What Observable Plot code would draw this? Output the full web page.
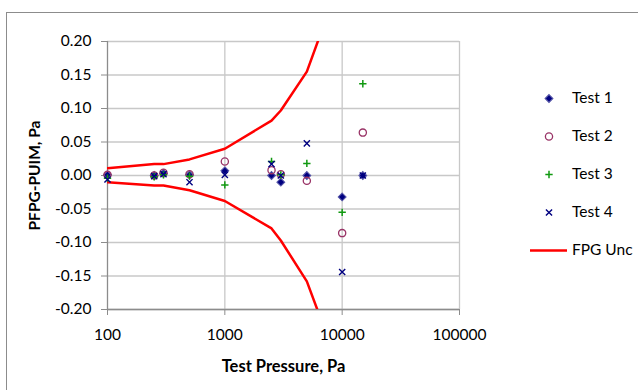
<!DOCTYPE html>
<html>
<head>
<meta charset="utf-8">
<script src="https://cdn.jsdelivr.net/npm/d3@7"></script>
<script src="https://cdn.jsdelivr.net/npm/@observablehq/plot@0.6"></script>
<style>
  html, body { margin: 0; padding: 0; background: #fff; overflow: hidden; width: 638px; height: 390px; }
  #wrap { position: relative; width: 638px; height: 390px; }
  #frame { position: absolute; left: 6px; top: 12px; width: 700px; height: 500px;
           border-left: 1.5px solid #8c8c8c; border-top: 1.5px solid #8c8c8c; }
  #main, #legend { position: absolute; left: 0; top: 0; }
</style>
</head>
<body>
<div id="wrap"><div id="frame"></div><div id="main"></div><div id="legend"></div></div>
<script>
// ---- data ----
const pressures = [100, 250, 300, 500, 1000, 2500, 3000, 5000, 10000, 15000];
const test1 = [0.001, 0.000, 0.003, 0.001, 0.007, 0.000, -0.010, 0.000, -0.032, 0.000];
const test2 = [0.001, 0.000, 0.004, 0.002, 0.021, 0.008, 0.002, -0.008, -0.086, 0.064];
const test3 = [-0.004, -0.002, 0.001, -0.001, -0.014, 0.021, 0.001, 0.018, -0.055, 0.137];
const test4 = [-0.006, -0.001, 0.002, -0.010, 0.001, 0.017, 0.000, 0.048, -0.144, 0.000];
const uncPressures = [100, 250, 300, 500, 1000, 2500, 3000, 5000, 10000];
const uncUpper = [0.011, 0.017, 0.017, 0.024, 0.040, 0.082, 0.097, 0.155, 0.300];
const uncLower = [-0.010, -0.015, -0.015, -0.022, -0.038, -0.079, -0.097, -0.158, -0.300];
const seriesNames = ["Test 1", "Test 2", "Test 3", "Test 4", "FPG Unc"];
const xTicks = [100, 1000, 10000, 100000];
const yTicks = [-0.20, -0.15, -0.10, -0.05, 0.00, 0.05, 0.10, 0.15, 0.20];
const xTitle = "Test Pressure, Pa";
const yTitle = "PFPG-PUIM, Pa";

// ---- styles ----
const styles = {
  "Test 1": {symbol: "diamond2", r: 3.5, fill: "#000080", stroke: "#5656a8", strokeWidth: 1.1},
  "Test 2": {symbol: "circle", r: 3.6, fill: "none", stroke: "#993366", strokeWidth: 1.3},
  "Test 3": {symbol: "plus", r: 2.5, fill: "none", stroke: "#119911", strokeWidth: 1.5},
  "Test 4": {symbol: "times", r: 2.9, fill: "none", stroke: "#000080", strokeWidth: 1.4}
};
const lineStyle = {stroke: "#ff0000", strokeWidth: 2.5};

const testValues = [test1, test2, test3, test4];
const tests = seriesNames.slice(0, 4).map((name, i) =>
  pressures.map((p, j) => ({name, p, v: testValues[i][j]})));
const upper = uncPressures.map((p, i) => ({p, v: uncUpper[i]}));
const lower = uncPressures.map((p, i) => ({p, v: uncLower[i]}));

const font = "Lato, 'Open Sans', sans-serif";

const main = Plot.plot({
  width: 638, height: 390,
  marginLeft: 107, marginRight: 179, marginTop: 41, marginBottom: 81,
  style: {fontFamily: font, fontSize: "15.5px", color: "#000", background: "transparent"},
  x: {type: "log", domain: [100, 100000]},
  y: {domain: [-0.2, 0.2]},
  marks: [
    Plot.gridY(yTicks, {stroke: "#c8c8c8", strokeOpacity: 1, strokeWidth: 1.3}),
    Plot.gridX(xTicks.slice(1), {stroke: "#c8c8c8", strokeOpacity: 1, strokeWidth: 1.3}),
    Plot.axisY(yTicks, {tickFormat: d => d.toFixed(2), tickSize: 6, tickPadding: 10, stroke: "#8c8c8c", fill: "#000", label: null}),
    Plot.axisX(xTicks, {tickFormat: d => String(d), tickSize: 6, tickPadding: 13, stroke: "#8c8c8c", fill: "#000", label: null}),
    Plot.ruleX([100], {stroke: "#8c8c8c", strokeWidth: 1.3}),
    Plot.ruleY([-0.2], {stroke: "#8c8c8c", strokeWidth: 1.6}),
    Plot.line(upper, {x: "p", y: "v", ...lineStyle, clip: true}),
    Plot.line(lower, {x: "p", y: "v", ...lineStyle, clip: true}),
    ...tests.map(data => Plot.dot(data, {x: "p", y: "v", ...styles[data[0].name]})),
    Plot.text([xTitle], {frameAnchor: "bottom", dy: 57, textAnchor: "middle", lineAnchor: "middle", fontWeight: "bold", fontSize: 16.5}),
    Plot.text([yTitle], {frameAnchor: "left", dx: -72, rotate: -90, textAnchor: "middle", lineAnchor: "middle", fontWeight: "bold", fontSize: 15.5})
  ]
});
document.getElementById("main").appendChild(main);

const legend = Plot.plot({
  width: 638, height: 390,
  marginLeft: 530, marginRight: 71, marginTop: 0, marginBottom: 0,
  style: {fontFamily: font, fontSize: "15.5px", color: "#000", background: "transparent"},
  y: {type: "point", domain: seriesNames, range: [97, 250], padding: 0, axis: null},
  marks: [
    ...seriesNames.slice(0, 4).map(n => Plot.dot([n], {y: d => d, ...styles[n]})),
    Plot.ruleY(["FPG Unc"], {y: d => d, ...lineStyle}),
    Plot.text(seriesNames, {y: d => d, frameAnchor: "right", textAnchor: "start", dx: 4.5, fill: "#000"})
  ]
});
document.getElementById("legend").appendChild(legend);
</script>
</body>
</html>
